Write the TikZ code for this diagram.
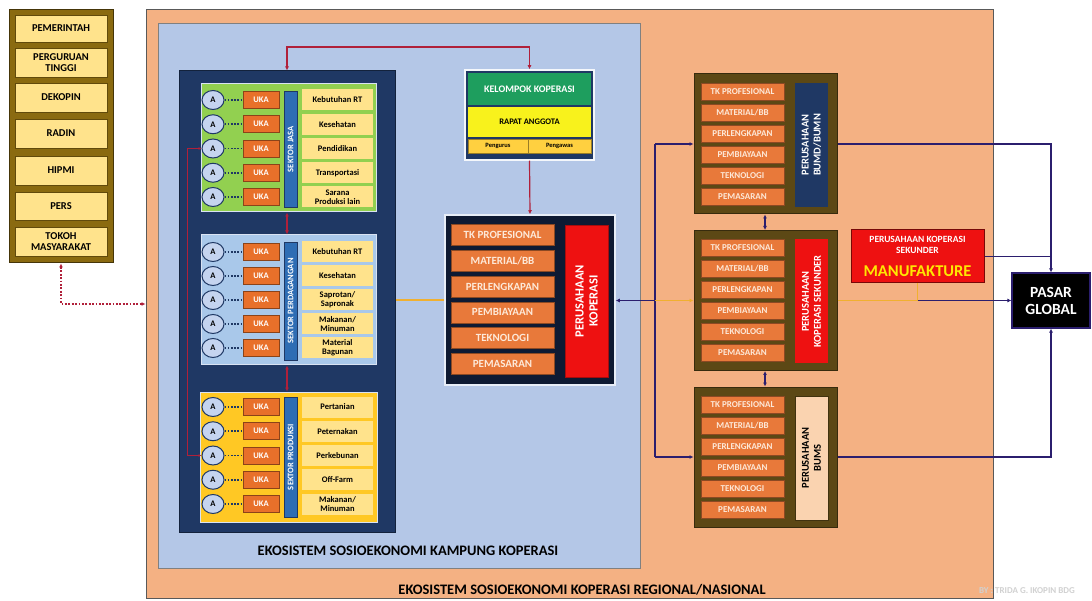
\documentclass[tikz,border=0pt]{standalone}
\usepackage{fontspec}
\setmainfont{Carlito}
\usetikzlibrary{arrows.meta,shapes.geometric}
\definecolor{peach}{HTML}{F4B183}
\definecolor{lblue}{HTML}{B4C7E7}
\definecolor{navyc}{HTML}{1F3864}
\definecolor{goldc}{HTML}{8A6A10}
\definecolor{ylitem}{HTML}{FFE38C}
\definecolor{jasag}{HTML}{92D050}
\definecolor{perdb}{HTML}{A9C8EA}
\definecolor{prody}{HTML}{FFC824}
\definecolor{barblue}{HTML}{2E6DB4}
\definecolor{kgreen}{HTML}{1E9E5E}
\definecolor{ryellow}{HTML}{F8F21C}
\definecolor{pyellow}{HTML}{FFD040}
\definecolor{pkred}{HTML}{EE1111}
\definecolor{pkdark}{HTML}{0E1A33}
\definecolor{oitem}{HTML}{E8793A}
\definecolor{ukaor}{HTML}{E8702A}
\definecolor{itemtxt}{HTML}{FDE9D9}
\definecolor{rbrown}{HTML}{5C4815}
\definecolor{circf}{HTML}{C5D4EF}
\definecolor{redln}{HTML}{B0203A}
\definecolor{orln}{HTML}{F0B030}
\definecolor{navln}{HTML}{2B1E6E}
\definecolor{bumsf}{HTML}{FAD3B0}
\newcommand{\myfs}[2]{\fontsize{#1}{#2}\selectfont\bfseries}
\tikzset{
  lcitem/.style={fill=ylitem, draw=goldc!70!black, line width=0.8pt, minimum width=92, font=\myfs{10.5}{11}},
  secbox/.style={draw=white!50!lblue, line width=1pt},
  secitem/.style={fill=ylitem, minimum width=71, minimum height=21, font=\myfs{8.5}{9}},
  secbar/.style={fill=barblue, draw=navyc, line width=0.6pt, rotate=90, minimum height=13, text=white, font=\myfs{8.5}{9}},
  circa/.style={ellipse, fill=circf, draw=navyc, line width=1pt, minimum width=22, minimum height=19, font=\myfs{8.5}{9}},
  ukab/.style={fill=ukaor, draw=ukaor!60!black, line width=0.6pt, minimum width=36, minimum height=17, text=white, font=\myfs{8.5}{9}},
  smalldot/.style={navyc, line width=1.6pt, dash pattern=on 1.6pt off 1.6pt},
  pkitem/.style={fill=oitem, draw=oitem!60!black, line width=0.6pt, minimum width=103, minimum height=21, text=itemtxt, font=\myfs{11}{12}},
  ritem/.style={fill=oitem, draw=oitem!60!black, line width=0.5pt, minimum width=83, minimum height=17, text=itemtxt, font=\myfs{9}{9.5}},
  rbox/.style={fill=rbrown, draw=rbrown!60!black, line width=1pt, minimum width=143, minimum height=140},
  rvert/.style={rotate=90, minimum width=124, minimum height=33, font=\myfs{10.5}{12}},
  redline/.style={redln, line width=1.2pt},
  navline/.style={navln, line width=1.4pt},
  orline/.style={orln, line width=1.4pt},
  tipc/.tip={Latex[length=4pt,width=4pt]},
  tips/.tip={Latex[length=3pt,width=3pt]}
}
\newcommand{\sectrows}[2]{%
  \foreach \yy/\lab [count=\i] in {#2} {
    \node[circa] (#1c\i) at (213,\yy) {A};
    \node[ukab] (#1u\i) at (261,\yy) {UKA};
    \node[secitem] (#1i\i) at (337.5,\yy) {\lab};
    \draw[smalldot] (#1c\i.east) -- (#1u\i.west);
  }}
\newcommand{\rightbox}[5]{%
  \node[rbox] (#1) at (765.5,#2) {};
  \foreach \lab [count=\i] in {TK PROFESIONAL, MATERIAL/BB, PERLENGKAPAN, PEMBIAYAAN, TEKNOLOGI, PEMASARAN} {
    \node[ritem] (#1i\i) at (742.5,{#2-52.5+(\i-1)*21}) {\lab};
  }
  \node[rvert, #3] (#1v) at (811.5,#2+1) {#4\\#5};
}
\begin{document}
\begin{tikzpicture}[x=1pt,y=-1pt, every node/.style={inner sep=0pt, align=center}]
\useasboundingbox (0,0) rectangle (1092,601);
\fill[white] (0,0) rectangle (1092,601);

% outer frames
\node[draw=black!65, line width=1pt, fill=peach, minimum width=847, minimum height=588] (orng) at (569.5,304) {};
\node[draw=black!50, line width=1pt, fill=lblue, minimum width=482, minimum height=544] (kamp) at (399,296) {};
\node[fill=navyc, draw=navyc!60!black, line width=1pt, minimum width=216, minimum height=461] (navbox) at (287,301.5) {};

% sectors
\node[secbox, fill=jasag, minimum width=175, minimum height=128] (jasa) at (288.5,148) {};
\node[secbox, fill=perdb, minimum width=175, minimum height=130] (perd) at (288.5,300) {};
\node[secbox, fill=prody, minimum width=177, minimum height=130] (prod) at (288.5,457) {};
\node[secbar, minimum width=116] (jbar) at (290.5,149) {SEKTOR JASA};
\node[secbar, minimum width=118] (pbar) at (290.5,301) {SEKTOR PERDAGANGAN};
\node[secbar, minimum width=120] (dbar) at (290.5,457) {SEKTOR PRODUKSI};
\sectrows{j}{100/Kebutuhan RT, 124.25/Kesehatan, 148.5/Pendidikan, 172.75/Transportasi, 197/{Sarana\\Produksi lain}}
\sectrows{p}{252/Kebutuhan RT, 276/Kesehatan, 300/{Saprotan/\\Sapronak}, 324/{Makanan/\\Minuman}, 348/{Material\\Bagunan}}
\sectrows{d}{407/Pertanian, 431.25/Peternakan, 455.5/Perkebunan, 479.75/Off-Farm, 504/{Makanan/\\Minuman}}

% kelompok koperasi
\node[fill=navyc, draw=white!85!lblue, line width=1.5pt, minimum width=129, minimum height=90] (kel) at (529.5,115) {};
\node[fill=kgreen, minimum width=123, minimum height=32, text=white, font=\myfs{10}{11}] (kelg) at (529.5,89) {KELOMPOK KOPERASI};
\node[fill=ryellow, minimum width=123, minimum height=30, font=\myfs{8.5}{9}] (kely) at (529.5,122) {RAPAT ANGGOTA};
\node[fill=pyellow, draw=pyellow!60!black, line width=0.4pt, minimum width=60, minimum height=14, font=\myfs{6.5}{7}] (kelp1) at (498,146) {Pengurus};
\node[fill=pyellow, draw=pyellow!60!black, line width=0.4pt, minimum width=63, minimum height=14, font=\myfs{6.5}{7}] (kelp2) at (559.5,146) {Pengawas};

% perusahaan koperasi
\node[fill=pkdark, draw=white!70!lblue, line width=1.5pt, minimum width=170, minimum height=170] (pk) at (530,300) {};
\foreach \lab [count=\i] in {TK PROFESIONAL, MATERIAL/BB, PERLENGKAPAN, PEMBIAYAAN, TEKNOLOGI, PEMASARAN} {
  \node[pkitem] (pki\i) at (502.5,{235+(\i-1)*25.8}) {\lab};
}
\node[fill=pkred, draw=pkred!70!black, line width=0.5pt, rotate=90, minimum width=152, minimum height=43, text=white, font=\myfs{12.5}{14}] (pkr) at (586.5,301) {PERUSAHAAN\\KOPERASI};

% right boxes
\rightbox{bumd}{144}{fill=navyc, text=white}{PERUSAHAAN}{BUMD/BUMN}
\rightbox{sek}{300.5}{fill=pkred, text=white}{PERUSAHAAN}{KOPERASI SEKUNDER}
\rightbox{bums}{457}{fill=bumsf, draw=rbrown!70!black, line width=0.6pt, text=black}{PERUSAHAAN}{BUMS}

% manufakture
\node[fill=pkred, draw=pkred!50!black, line width=1pt, minimum width=133, minimum height=53] (manu) at (917.5,256.5) {};
\node[text=white, font=\myfs{9.5}{11}] (manut) at (917.5,244.5) {PERUSAHAAN KOPERASI\\SEKUNDER};
\node[text=yellow!90!orange, font=\myfs{16.5}{17}] (manum) at (917.5,271) {MANUFAKTURE};

% pasar global
\node[fill=black, draw=navln, line width=1.2pt, minimum width=78, minimum height=55, text=white, font=\myfs{15.5}{17}] (pasar) at (1051,300.5) {PASAR\\GLOBAL};

% left column
\node[fill=goldc, draw=goldc!50!black, line width=1pt, minimum width=104, minimum height=253] (lcol) at (61,136.5) {};
\node[lcitem, minimum height=27] (lc1) at (61,28.5) {PEMERINTAH};
\node[lcitem, minimum height=29] (lc2) at (61,62.5) {PERGURUAN\\TINGGI};
\node[lcitem, minimum height=29] (lc3) at (61,97.5) {DEKOPIN};
\node[lcitem, minimum height=29] (lc4) at (61,133.5) {RADIN};
\node[lcitem, minimum height=29] (lc5) at (61,170.5) {HIPMI};
\node[lcitem, minimum height=28] (lc6) at (61,206) {PERS};
\node[lcitem, minimum height=29] (lc7) at (61,241.5) {TOKOH\\MASYARAKAT};

% labels
\node[font=\myfs{14.5}{15}] (kamplab) at (408,551) {EKOSISTEM SOSIOEKONOMI KAMPUNG KOPERASI};
\node[font=\myfs{14.5}{15}] (reglab) at (582,590) {EKOSISTEM SOSIOEKONOMI KOPERASI REGIONAL/NASIONAL};
\node[text=black!18, font=\myfs{9}{10}] (wm) at (1027,591) {BY : TRIDA G. IKOPIN BDG};

% connectors
\coordinate (rtop) at (0,47);
\draw[redline, tipc-tipc] (navbox.north) -- (navbox.north |- rtop) -| (kel.north);
\draw[redline, -tipc] (kel.south) -- (pk.north);
\draw[redline, tipc-tipc] (jasa.south -| navbox.north) -- (perd.north -| navbox.north);
\draw[redline, tipc-tipc] (perd.south -| navbox.north) -- (prod.north -| navbox.north);
\coordinate (lx) at (187,0);
\draw[redln, line width=0.7pt] (lx |- jc3.west) -- (lx |- dc3.west);
\draw[redln, line width=0.9pt, -tips] (lx |- jc3.west) -- (jc3.west);
\draw[redln, line width=0.9pt, -tips] (lx |- dc3.west) -- (dc3.west);
\draw[orline] (navbox.east |- pk.west) -- (pk.west);

\draw[redln, line width=1.8pt, dash pattern=on 1.8pt off 1.6pt, tipc-tipc] (lcol.south) |- (orng.west);

\coordinate (jx) at (655,300.5);
\draw[navline, tipc-] (pk.east |- jx) -- (jx);
\draw[navline] (jx |- bumd.west) -- (jx |- bums.west);
\draw[navline, -tipc] (jx |- bumd.west) -- (bumd.west);
\draw[navline, -tipc] (jx |- bums.west) -- (bums.west);
\draw[orline, -tipc] (jx) -- (sek.west);
\coordinate (dx) at (765,0);
\draw[navline, tipc-tipc] (dx |- bumd.south) -- (dx |- sek.north);
\draw[navline, tipc-tipc] (dx |- sek.south) -- (dx |- bums.north);

\draw[orline] (sek.east) -- (sek.east -| manu.south);
\draw[orline] (manu.south) -- (manu.south |- sek.east);
\draw[navline, -tipc] (manu.south |- sek.east) -- (pasar.west);
\draw[navline] (manu.east) -- (manu.east -| pasar.north);
\draw[navline, -tipc] (bumd.east) -| (pasar.north);
\draw[navline, -tipc] (bums.east) -| (pasar.south);
\end{tikzpicture}
\end{document}
